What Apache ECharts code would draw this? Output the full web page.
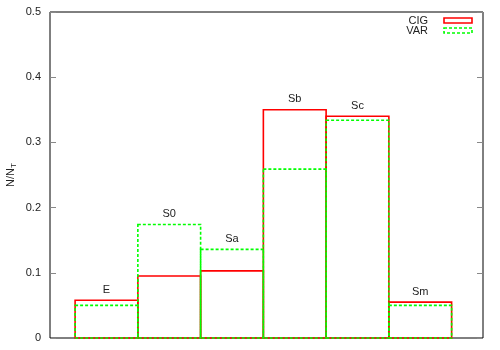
<!DOCTYPE html>
<html><head><meta charset="utf-8">
<script src="https://cdn.jsdelivr.net/npm/echarts@6/dist/echarts.min.js"></script>
<style>html,body{margin:0;padding:0;background:#fff}#c{width:500px;height:350px}</style>
</head><body><div id="c"></div>
<script>
var categories = ['E', 'S0', 'Sa', 'Sb', 'Sc', 'Sm'];
var cigValues = [0.058, 0.095, 0.103, 0.350, 0.340, 0.055];
var varValues = [0.050, 0.174, 0.136, 0.259, 0.334, 0.050];
var yTicks = [0, 0.1, 0.2, 0.3, 0.4, 0.5];
var seriesNames = ['CIG', 'VAR'];

var chart = echarts.init(document.getElementById('c'), null, {renderer: 'canvas'});
var FONT = 'Liberation Sans, Arial, sans-serif';

function boxSeries(name, values, color, dash, z) {
  return {
    type: 'custom', name: name, z: z,
    data: values.map(function (v, i) { return [i + 1, v]; }),
    renderItem: function (params, api) {
      var x = api.value(0), v = api.value(1);
      var tl = api.coord([x - 0.5, v]);
      var br = api.coord([x + 0.5, 0]);
      return {
        type: 'rect',
        shape: {x: tl[0], y: tl[1], width: br[0] - tl[0], height: br[1] - tl[1]},
        style: {fill: null, stroke: color, lineWidth: 1.6, lineDash: dash}
      };
    }
  };
}

var labelSeries = {
  type: 'custom', z: 5,
  data: categories.map(function (c, i) { return [i + 1, Math.max(cigValues[i], varValues[i]), c]; }),
  renderItem: function (params, api) {
    var p = api.coord([api.value(0), api.value(1)]);
    return {
      type: 'text',
      style: {x: p[0], y: p[1] - 5, text: categories[params.dataIndex], fill: '#222',
              font: '11px ' + FONT, align: 'center', verticalAlign: 'bottom'}
    };
  }
};

chart.setOption({
  animation: false,
  grid: {left: 50, right: 17, top: 12, bottom: 12, outerBoundsMode: 'none', containLabel: false,
         show: true, borderColor: '#000', borderWidth: 1, backgroundColor: 'transparent'},
  xAxis: {type: 'value', min: 0.1, max: 7, axisLine: {show: false}, axisTick: {show: false},
          axisLabel: {show: false}, splitLine: {show: false}},
  yAxis: [{
    type: 'value', min: yTicks[0], max: yTicks[yTicks.length - 1], interval: 0.1,
    name: 'N/N{sub|T}', nameLocation: 'middle', nameGap: 32, nameRotate: 90, nameMoveOverlap: false,
    nameTextStyle: {color: '#222', fontFamily: FONT, fontSize: 11,
      rich: {sub: {fontSize: 8, verticalAlign: 'bottom', padding: [6, 0, 0, 0], color: '#222', fontFamily: FONT}}},
    axisLine: {show: false},
    axisTick: {show: true, inside: true, length: 6, lineStyle: {color: '#888'}},
    axisLabel: {color: '#222', fontFamily: FONT, fontSize: 11, margin: 9,
      formatter: function (v) { return v === 0 ? '0' : String(Math.round(v * 10) / 10); }},
    splitLine: {show: false}
  }, {
    type: 'value', position: 'right', min: 0, max: 0.5, interval: 0.1,
    axisLine: {show: false},
    axisTick: {show: true, inside: true, length: 6, lineStyle: {color: '#888'}},
    axisLabel: {show: false}, splitLine: {show: false}
  }],
  series: [
    boxSeries(seriesNames[0], cigValues, '#ff0000', null, 2),
    boxSeries(seriesNames[1], varValues, '#00ff00', [3, 2], 3),
    labelSeries
  ],
  graphic: [
    {type: 'text', style: {x: 428, y: 21, text: seriesNames[0], font: '11px ' + FONT, fill: '#222', align: 'right', verticalAlign: 'middle'}},
    {type: 'rect', shape: {x: 444, y: 18, width: 28, height: 5}, style: {fill: null, stroke: '#ff0000', lineWidth: 1.6}},
    {type: 'text', style: {x: 428, y: 31, text: seriesNames[1], font: '11px ' + FONT, fill: '#222', align: 'right', verticalAlign: 'middle'}},
    {type: 'rect', shape: {x: 444, y: 28, width: 28, height: 5}, style: {fill: null, stroke: '#00ff00', lineWidth: 1.6, lineDash: [3, 2]}}
  ]
});
</script></body></html>
